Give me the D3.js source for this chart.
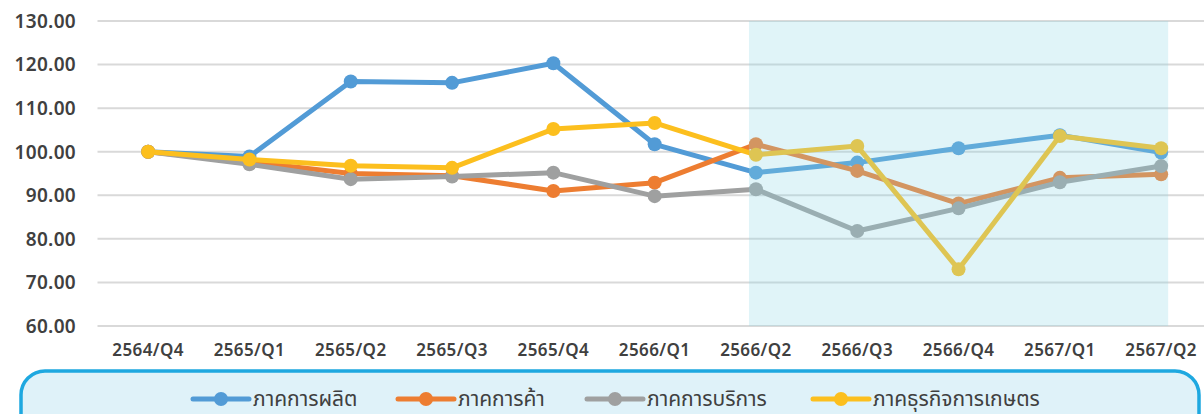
<!DOCTYPE html>
<html>
<head>
<meta charset="utf-8">
<script src="https://cdn.jsdelivr.net/npm/d3@7"></script>
<style>
  body { margin: 0; background: #fff; }
  svg { display: block; }
  text { font-family: "Noto Sans Thai", "Open Sans", "Noto Sans", sans-serif; fill: #404040; }
</style>
</head>
<body>
<script>
const width = 1204;
const height = 414;

const quarters = ["2564/Q4", "2565/Q1", "2565/Q2", "2565/Q3", "2565/Q4", "2566/Q1",
  "2566/Q2", "2566/Q3", "2566/Q4", "2567/Q1", "2567/Q2"];
const yTicks = [60, 70, 80, 90, 100, 110, 120, 130];
const highlight = ["2566/Q2", "2567/Q2"];

const seriesNames = ["ภาคการผลิต", "ภาคการค้า", "ภาคการบริการ", "ภาคธุรกิจการเกษตร"];
const seriesColors = ["#529bd6", "#ed7d31", "#9fa0a0", "#fcbf1e"];
const production = [100.0, 98.9, 116.1, 115.8, 120.3, 101.7, 95.2, 97.5, 100.8, 103.8, 99.8];
const trade = [100.0, 97.7, 95.0, 94.5, 91.0, 92.9, 101.7, 95.6, 88.1, 94.0, 94.8];
const services = [100.0, 97.1, 93.7, 94.3, 95.2, 89.8, 91.4, 81.8, 87.0, 93.0, 96.7];
const agri = [100.0, 98.2, 96.8, 96.3, 105.2, 106.6, 99.3, 101.3, 73.0, 103.6, 100.8];
const seriesValues = [production, trade, services, agri];

const svg = d3.select("body").append("svg")
  .attr("width", width)
  .attr("height", height);

const x = d3.scaleBand().domain(quarters).range([97.5, 97.5 + 101.3 * quarters.length]).padding(0);
const cx = (q) => x(q) + x.bandwidth() / 2;
const y = d3.scaleLinear().domain([60, 130]).range([326, 21]);

// gridlines
svg.append("g")
  .selectAll("line")
  .data(yTicks)
  .enter()
  .append("line")
  .attr("x1", x.range()[0])
  .attr("x2", x.range()[1])
  .attr("y1", (d) => y(d))
  .attr("y2", (d) => y(d))
  .attr("stroke", "#d9d9d9")
  .attr("stroke-width", 2);

// series
const line = d3.line()
  .x((d, i) => cx(quarters[i]))
  .y((d) => y(d));

const series = svg.append("g")
  .selectAll("g")
  .data(seriesValues)
  .enter()
  .append("g");

series.append("path")
  .attr("d", (d) => line(d))
  .attr("fill", "none")
  .attr("stroke", (d, i) => seriesColors[i])
  .attr("stroke-width", 5)
  .attr("stroke-linejoin", "round");

series.each(function(vals, si) {
  d3.select(this).selectAll("circle")
    .data(vals)
    .enter()
    .append("circle")
    .attr("cx", (d, i) => cx(quarters[i]))
    .attr("cy", (d) => y(d))
    .attr("r", 7)
    .attr("fill", seriesColors[si]);
});

// highlighted period overlay
svg.append("rect")
  .attr("x", cx(highlight[0]) - 7)
  .attr("y", y(130))
  .attr("width", cx(highlight[1]) - cx(highlight[0]) + 14)
  .attr("height", y(60) - y(130))
  .attr("fill", "rgb(140,214,230)")
  .attr("fill-opacity", 0.27);

// y labels
svg.append("g")
  .selectAll("text")
  .data(yTicks)
  .enter()
  .append("text")
  .attr("x", 76)
  .attr("y", (d) => y(d))
  .attr("dy", "0.36em")
  .attr("text-anchor", "end")
  .style("font-size", "19px")
  .style("font-weight", 600)
  .style("letter-spacing", "0.3px")
  .text((d) => d3.format(".2f")(d));

// x labels
svg.append("g")
  .selectAll("text")
  .data(quarters)
  .enter()
  .append("text")
  .attr("x", (d) => cx(d))
  .attr("y", 356)
  .attr("text-anchor", "middle")
  .style("font-size", "17px")
  .style("font-weight", 600)
  .style("letter-spacing", "0.4px")
  .text((d) => d);

// legend
svg.append("rect")
  .attr("x", 21)
  .attr("y", 371)
  .attr("width", 1178)
  .attr("height", 70)
  .attr("rx", 24)
  .attr("fill", "#dff2f9")
  .attr("stroke", "#1ea8e0")
  .attr("stroke-width", 3.5);

const legendX = [193, 398, 587, 813];
const legend = svg.append("g")
  .selectAll("g")
  .data(seriesNames)
  .enter()
  .append("g")
  .attr("transform", (d, i) => "translate(" + legendX[i] + ",399)");

legend.append("line")
  .attr("x1", 0)
  .attr("x2", 56)
  .attr("stroke", (d, i) => seriesColors[i])
  .attr("stroke-width", 5)
  .attr("stroke-linecap", "round");

legend.append("circle")
  .attr("cx", 28)
  .attr("r", 7)
  .attr("fill", (d, i) => seriesColors[i]);

legend.append("text")
  .attr("x", 60)
  .attr("dy", "0.35em")
  .style("font-size", "21px")
  .text((d) => d);
</script>
</body>
</html>
